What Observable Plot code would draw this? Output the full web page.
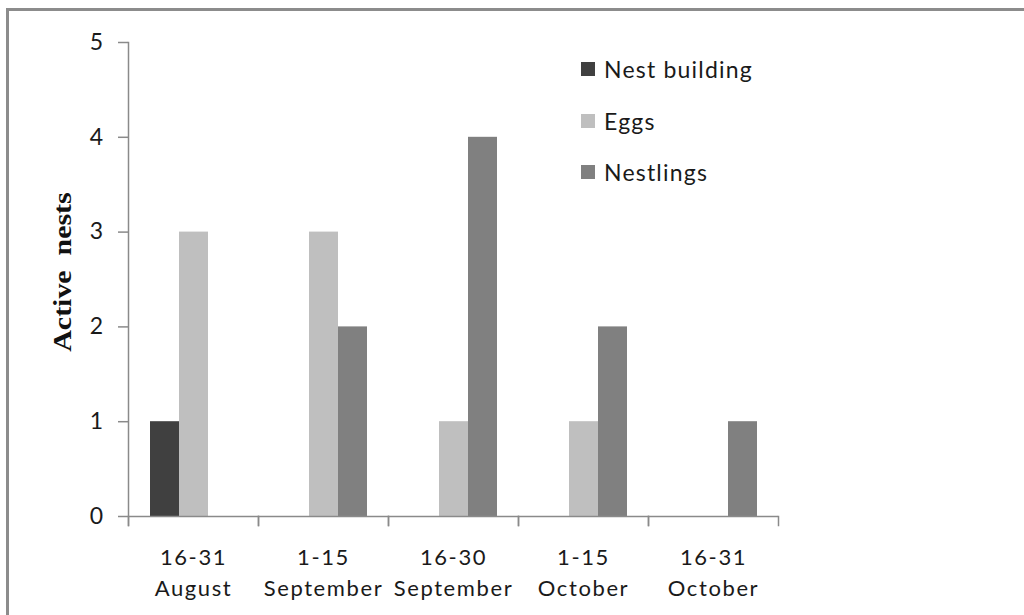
<!DOCTYPE html>
<html><head><meta charset="utf-8">
<script src="https://cdn.jsdelivr.net/npm/d3@7"></script>
<script src="https://cdn.jsdelivr.net/npm/@observablehq/plot@0.6"></script>
<style>
body{margin:0;background:#fff;}
#wrap{position:relative;width:1024px;height:615px;overflow:hidden;font-family:Lato,"Open Sans",sans-serif;background:#fff;}
#border{position:absolute;left:6px;top:8px;width:1100px;height:700px;border-left:3px solid #8c8c8c;border-top:3px solid #8c8c8c;}
#chart{position:absolute;left:0;top:0;}
#chart svg g[aria-label="fx-axis tick label"] text{letter-spacing:1.6px;}
#chart svg g[aria-label="y-axis tick label"] text{letter-spacing:0.5px;}
#ylabel{position:absolute;left:63px;top:272px;transform:translate(-50%,-50%) rotate(-90deg) scaleX(1.15);font-family:"Liberation Serif","DejaVu Serif",serif;font-weight:bold;font-size:26px;color:#111;white-space:pre;}
#legend{position:absolute;left:581px;top:0;}
.item{position:absolute;left:0;display:flex;align-items:center;white-space:nowrap;font-size:23px;letter-spacing:1.2px;color:#1a1a1a;}
.sw{width:14px;height:14px;margin-right:9px;}
</style></head>
<body>
<div id="wrap"><div id="border"></div><div id="chart"></div><div id="ylabel"></div><div id="legend"></div></div>
<script>
const periods = ["16-31\nAugust", "1-15\nSeptember", "16-30\nSeptember", "1-15\nOctober", "16-31\nOctober"];
const series = ["Nest building", "Eggs", "Nestlings"];
const nestBuilding = [1, 0, 0, 0, 0];
const eggs = [3, 3, 1, 1, 0];
const nestlings = [0, 2, 4, 2, 1];
const colors = ["#404040", "#bfbfbf", "#808080"];
const yTicks = [0, 1, 2, 3, 4, 5];
const yTitle = "Active  nests";

const valuesBySeries = [nestBuilding, eggs, nestlings];
const data = periods.flatMap((p, i) => series.map((s, j) => ({period: p, series: s, value: valuesBySeries[j][i]})));

const axisGrey = "#8a8a8a";
const chart = Plot.plot({
  width: 1024, height: 615,
  marginLeft: 128, marginRight: 246, marginTop: 42, marginBottom: 99,
  style: {fontFamily: "Lato, 'Open Sans', sans-serif", color: "#1a1a1a", background: "transparent"},
  fx: {domain: periods, padding: 0, axis: null, label: null},
  x: {domain: series, paddingInner: 0, paddingOuter: 0.74, axis: null},
  y: {domain: [0, 5], axis: null},
  color: {domain: series, range: colors},
  marks: [
    Plot.barY(data, {fx: "period", x: "series", y: "value", fill: "series"}),
    Plot.ruleY([0], {stroke: axisGrey, strokeWidth: 1.5}),
    Plot.frame({anchor: "left", insetTop: 474, insetBottom: -9, stroke: axisGrey, strokeWidth: 1.5}),
    Plot.frame({anchor: "right", insetTop: 474, insetBottom: -9, stroke: axisGrey, strokeWidth: 1.5}),
    Plot.frame({anchor: "left", facet: "super", insetBottom: -9, stroke: axisGrey, strokeWidth: 1.5}),
    Plot.axisY({ticks: yTicks, tickFormat: "d", tickSize: 10, tickPadding: 15, label: null, fontSize: 23, stroke: axisGrey, fill: "#1a1a1a", strokeWidth: 1.5}),
    Plot.axisFx({anchor: "bottom", tickSize: 0, tickPadding: 26, fontSize: 22, lineHeight: 1.42, label: null, fill: "#1a1a1a"})
  ]
});
document.getElementById("chart").appendChild(chart);
document.getElementById("ylabel").textContent = yTitle;

const legendTops = [69, 121, 172];
const legend = document.getElementById("legend");
series.forEach((s, i) => {
  const item = document.createElement("div");
  item.className = "item";
  item.style.top = (legendTops[i] - 15) + "px";
  item.style.height = "30px";
  const sw = document.createElement("div");
  sw.className = "sw";
  sw.style.background = colors[i];
  const t = document.createElement("span");
  t.textContent = s;
  item.appendChild(sw); item.appendChild(t);
  legend.appendChild(item);
});
</script>
</body></html>
